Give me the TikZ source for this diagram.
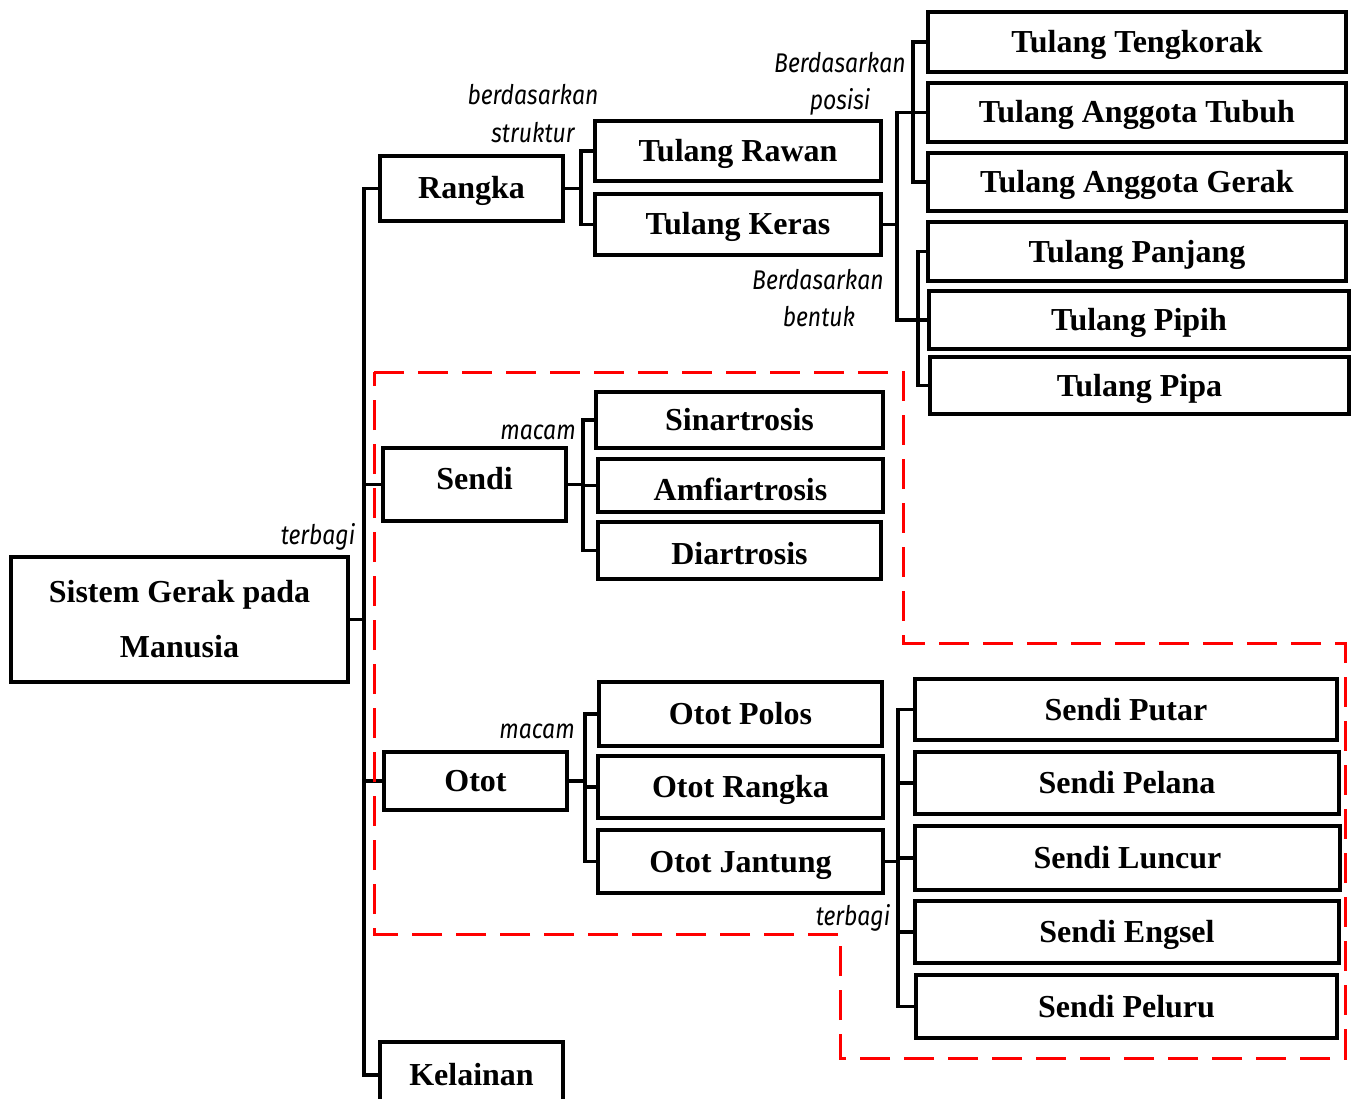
\documentclass[tikz,border=0pt]{standalone}
\usepackage{fontspec}
\setmainfont{Liberation Serif}
\newfontfamily\lblfont[FakeStretch=0.85]{Fira Sans}
\begin{document}
\begin{tikzpicture}[x=1pt,y=-1pt,
  box/.style={draw,line width=3.8pt,inner sep=0pt,align=center,
    text height=21pt,text depth=0pt,
    font=\fontsize{32}{55}\selectfont\bfseries},
  conn/.style={line width=3.3pt,line cap=rect},
  lbl/.style={inner sep=0pt,font=\fontsize{27}{30}\lblfont\itshape},
  zone/.style={draw=red,line width=3pt,dash pattern=on 30pt off 14pt}]
\useasboundingbox (0,0) rectangle (1354,1099);

% main topic
\node[box,text height=,text depth=,minimum width=337,minimum height=125] (main) at (179.5,619.5) {Sistem Gerak pada\\Manusia};

% first level
\node[box,minimum width=183,minimum height=65] (rangka) at (471.5,188.5) {Rangka};
\node[box,text depth=11pt,minimum width=183,minimum height=73] (sendi) at (474.5,484.5) {Sendi};
\node[box,minimum width=183,minimum height=58] (otot) at (475.5,781) {Otot};
\node[box,minimum width=183,minimum height=66] (kelainan) at (471.5,1075) {Kelainan};

% bones
\node[box,minimum width=286,minimum height=60] (rawan) at (738,151) {Tulang Rawan};
\node[box,minimum width=286,minimum height=61] (keras) at (738,224.5) {Tulang Keras};
\node[box,minimum width=418,minimum height=60] (tengkorak) at (1137,42) {Tulang Tengkorak};
\node[box,minimum width=418,minimum height=59] (tubuh) at (1137,112.5) {Tulang Anggota Tubuh};
\node[box,minimum width=418,minimum height=58] (gerak) at (1137,182) {Tulang Anggota Gerak};
\node[box,minimum width=418,minimum height=59] (panjang) at (1137,251.5) {Tulang Panjang};
\node[box,minimum width=420,minimum height=58] (pipih) at (1139,320) {Tulang Pipih};
\node[box,minimum width=419,minimum height=57] (pipa) at (1139.5,385.5) {Tulang Pipa};

% joints
\node[box,minimum width=287,minimum height=56] (sinar) at (739.5,420) {Sinartrosis};
\node[box,text height=30pt,minimum width=285,minimum height=53] (amfi) at (740.5,485.5) {Amfiartrosis};
\node[box,text height=27pt,minimum width=283,minimum height=57] (diar) at (739.5,550.5) {Diartrosis};

% muscles
\node[box,minimum width=283,minimum height=64] (polos) at (740.5,714) {Otot Polos};
\node[box,minimum width=285,minimum height=62] (orangka) at (740.5,787) {Otot Rangka};
\node[box,minimum width=285,minimum height=63] (jantung) at (740.5,861.5) {Otot Jantung};

% joint types
\node[box,minimum width=422,minimum height=61] (putar) at (1126,709.5) {Sendi Putar};
\node[box,minimum width=424,minimum height=62] (pelana) at (1127,783) {Sendi Pelana};
\node[box,minimum width=425,minimum height=64] (luncur) at (1127.5,858) {Sendi Luncur};
\node[box,minimum width=424,minimum height=62] (engsel) at (1127,932) {Sendi Engsel};
\node[box,minimum width=421,minimum height=63] (peluru) at (1126.5,1006.5) {Sendi Peluru};

% bracket columns
\coordinate (trunk) at (364,0);
\coordinate (bA) at (581,0);
\coordinate (bB) at (897,0);
\coordinate (bC) at (913,0);
\coordinate (bD) at (918,0);
\coordinate (bE) at (583,0);
\coordinate (bF) at (585,0);
\coordinate (bG) at (898,0);

% trunk
\draw[conn] (rangka.west) -- (rangka.west -| trunk) -- (kelainan.west -| trunk) -- (kelainan.west);
\draw[conn] (main.east) -- (main.east -| trunk);
\draw[conn] (sendi.west) -- (sendi.west -| trunk);
\draw[conn] (otot.west) -- (otot.west -| trunk);

% skeleton
\draw[conn] (rangka.east) -- (rangka.east -| bA);
\draw[conn] (rawan.west) -- (rawan.west -| bA) -- (keras.west -| bA) -- (keras.west);
\draw[conn] (keras.east) -- (keras.east -| bB);
\draw[conn] (tubuh.west) -- (tubuh.west -| bB) -- (pipih.west -| bB) -- (pipih.west);
\draw[conn] (tengkorak.west) -- (tengkorak.west -| bC) -- (gerak.west -| bC) -- (gerak.west);
\draw[conn] (panjang.west) -- (panjang.west -| bD) -- (pipa.west -| bD) -- (pipa.west);

% joints
\draw[conn] (sendi.east) -- (sendi.east -| bE);
\draw[conn] (sinar.west) -- (sinar.west -| bE) -- (diar.west -| bE) -- (diar.west);
\draw[conn] (amfi.west) -- (amfi.west -| bE);

% muscles
\draw[conn] (otot.east) -- (otot.east -| bF);
\draw[conn] (polos.west) -- (polos.west -| bF) -- (jantung.west -| bF) -- (jantung.west);
\draw[conn] (orangka.west) -- (orangka.west -| bF);

% joint types
\draw[conn] (jantung.east) -- (jantung.east -| bG);
\draw[conn] (putar.west) -- (putar.west -| bG) -- (peluru.west -| bG) -- (peluru.west);
\draw[conn] (pelana.west) -- (pelana.west -| bG);
\draw[conn] (luncur.west) -- (luncur.west -| bG);
\draw[conn] (engsel.west) -- (engsel.west -| bG);

% connector labels
\node[lbl] (l1) at (318,537) {terbagi};
\node[lbl] (l2) at (533,95) {berdasarkan};
\node[lbl] (l3) at (533,133) {struktur};
\node[lbl] (l4) at (840,63) {Berdasarkan};
\node[lbl] (l5) at (840,102) {posisi};
\node[lbl] (l6) at (818,280) {Berdasarkan};
\node[lbl] (l7) at (819,317) {bentuk};
\node[lbl] (l8) at (538,432) {macam};
\node[lbl] (l9) at (537,731) {macam};
\node[lbl] (l10) at (853,918) {terbagi};

% highlighted region
\draw[zone] (374,372) -- (903,372) -- (903,643) -- (1345,643) -- (1345,1058)
  -- (840,1058) -- (840,934) -- (374,934) -- cycle;
\end{tikzpicture}
\end{document}
